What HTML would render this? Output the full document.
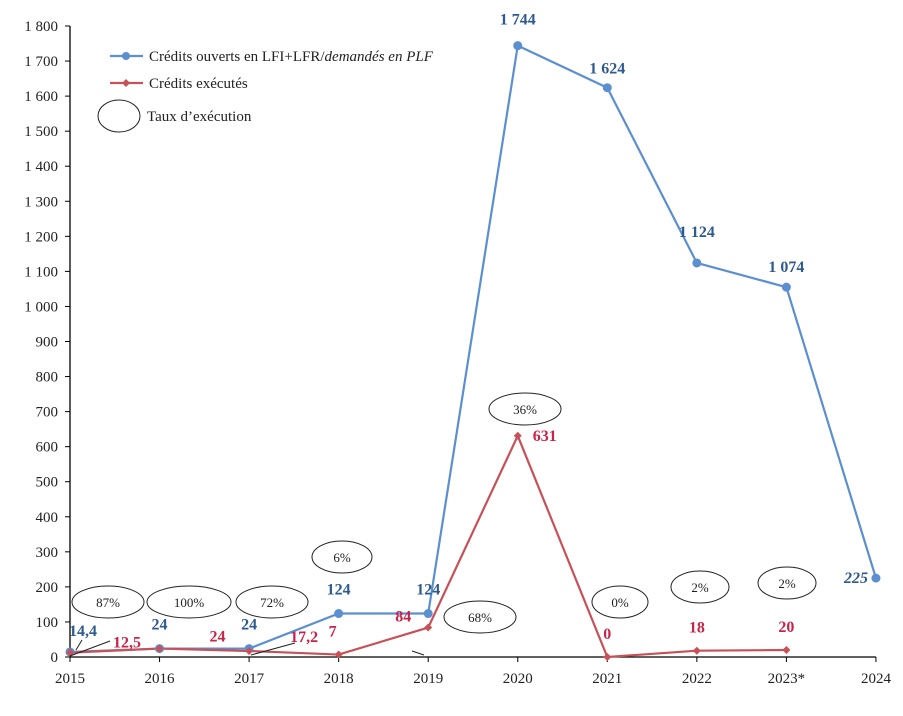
<!DOCTYPE html>
<html><head><meta charset="utf-8"><style>
body{margin:0;background:#fff}
svg{font-family:"Liberation Serif",serif}
</style></head><body>
<svg id="c" width="903" height="711" xmlns="http://www.w3.org/2000/svg"></svg>
<script>
const years=["2015","2016","2017","2018","2019","2020","2021","2022","2023*","2024"];
const opened=[14.4,24,24,124,124,1744,1624,1124,1055,225];
const openedLabels=["14,4","24","24","124","124","1 744","1 624","1 124","1 074","225"];
const executed=[12.5,24,17.2,7,84,631,0,18,20];
const executedLabels=["12,5","24","17,2","7","84","631","0","18","20"];
const yTicks=[0,100,200,300,400,500,600,700,800,900,1000,1100,1200,1300,1400,1500,1600,1700,1800];
const rates=["87%","100%","72%","6%","68%","36%","0%","2%","2%"];
const NS="http://www.w3.org/2000/svg",svg=document.getElementById('c');
const X=i=>70+i*89.55, Y=v=>657-v*631/1800;
function el(t,a,p){const e=document.createElementNS(NS,t);for(const k in a)e.setAttribute(k,a[k]);(p||svg).appendChild(e);return e;}
let ax=el('line',{x1:70,y1:26,x2:70,y2:657,stroke:'#000','stroke-width':1.3});

let bx=el('line',{x1:70,y1:657,x2:X(9),y2:657,stroke:'#000','stroke-width':1.3});

yTicks.forEach(v=>{el('line',{x1:65,y1:Y(v),x2:70,y2:Y(v),stroke:'#000'});
 const t=el('text',{x:58,y:Y(v)+5,'text-anchor':'end','font-size':15,fill:'#222'});t.textContent=v>=1000?String(v).replace(/^(\d)/,'$1 '):v;
 });
years.forEach((y,i)=>{el('line',{x1:X(i),y1:657,x2:X(i),y2:662,stroke:'#000'});
 const t=el('text',{x:X(i),y:683,'text-anchor':'middle','font-size':15,fill:'#222'});t.textContent=y;
 });
let pb=el('polyline',{points:opened.map((v,i)=>X(i)+','+Y(v)).join(' '),fill:'none',stroke:'#5b8fd0','stroke-width':2.2});

let pr=el('polyline',{points:executed.map((v,i)=>X(i)+','+Y(v)).join(' '),fill:'none',stroke:'#c85057','stroke-width':2.2});

opened.forEach((v,i)=>{const c=el('circle',{cx:X(i),cy:Y(v),r:4.5,fill:'#5b8fd0'});
 });
executed.forEach((v,i)=>{const c=el('path',{d:`M${X(i)},${Y(v)-4}l4,4l-4,4l-4,-4z`,fill:'#c85057'});
 });
const bOff=[[13,-16],[0,-19],[0,-19],[0,-19],[0,-19],[0,-21],[0,-14],[0,-26],[0,-15],[-20,5]];
opened.forEach((v,i)=>{const t=el('text',{x:X(i)+bOff[i][0],y:Y(v)+bOff[i][1],'text-anchor':'middle','font-size':16,'font-weight':'bold',fill:'#2f5a8f','font-style':i==9?'italic':'normal'});
 t.textContent=openedLabels[i];});
const rOff=[[57,-5],[58,-7],[55,-9],[-6,-18],[-25,-6],[27,5],[0,-18],[0,-18],[0,-18]];
executed.forEach((v,i)=>{const t=el('text',{x:X(i)+rOff[i][0],y:Y(v)+rOff[i][1],'text-anchor':'middle','font-size':16,'font-weight':'bold',fill:'#c8244a'});
 t.textContent=executedLabels[i];});
[[70,656,110,641],[251,655,295,643],[76,650,82,640],[412,651,424,655]].forEach(a=>el('line',{x1:a[0],y1:a[1],x2:a[2],y2:a[3],stroke:'#222','stroke-width':1}));
const ell=[[108,602,36],[189,602,42],[272,602,36],[342,557,30],[480,617,36],[525,409,36],[620,602,28],[700,587,29],[787,583,29]];
rates.forEach((r,i)=>{const e=ell[i];el('ellipse',{cx:e[0],cy:e[1],rx:e[2],ry:16,fill:'#fff',stroke:'#222','stroke-width':1});
 const t=el('text',{x:e[0],y:e[1]+5,'text-anchor':'middle','font-size':13,fill:'#222'});t.textContent=r;
 });
el('line',{x1:110,y1:56,x2:143,y2:56,stroke:'#5b8fd0','stroke-width':2.2});el('circle',{cx:126,cy:56,r:4,fill:'#5b8fd0'});
let l1=el('text',{x:149,y:61,'font-size':15,fill:'#222'});l1.innerHTML='Crédits ouverts en LFI+LFR/<tspan font-style="italic">demandés en PLF</tspan>';

el('line',{x1:110,y1:83,x2:143,y2:83,stroke:'#c85057','stroke-width':2.2});el('path',{d:'M126,79l4,4l-4,4l-4,-4z',fill:'#c85057'});
let l2=el('text',{x:149,y:88,'font-size':15,fill:'#222'});l2.textContent='Crédits exécutés';

el('ellipse',{cx:119,cy:116,rx:21,ry:16,fill:'none',stroke:'#222'});
let l3=el('text',{x:147,y:121,'font-size':15,fill:'#222'});l3.textContent='Taux d’exécution';

</script>
</body></html>
